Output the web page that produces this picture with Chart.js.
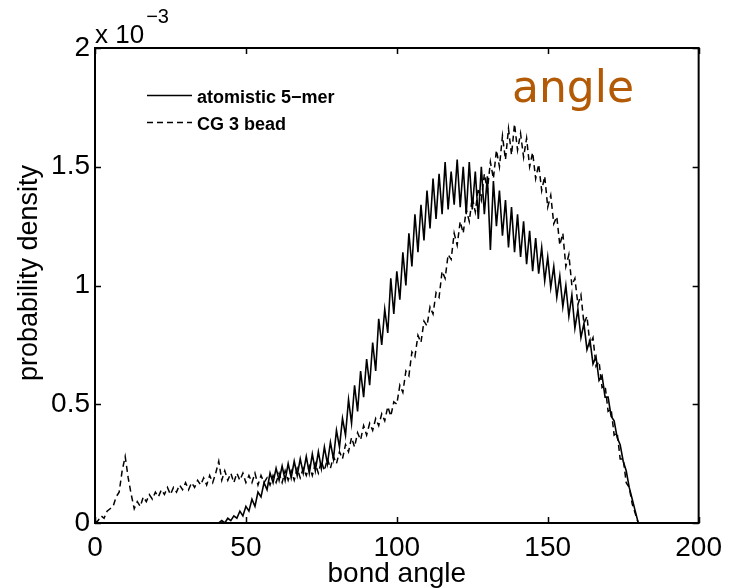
<!DOCTYPE html>
<html>
<head>
<meta charset="utf-8">
<script src="https://cdn.jsdelivr.net/npm/chart.js@4.4.1/dist/chart.umd.min.js"></script>
<style>
  html, body { margin: 0; padding: 0; background: #fff; }
  #wrap { width: 730px; height: 588px; }
</style>
</head>
<body>
<div id="wrap"><canvas id="c" width="730" height="588"></canvas></div>
<script>
// Bond angle (degrees) sample points
const angles = [
  0,1,2,3,4,5,6,7,8,9,10,11,12,13,14,15,16,17,18,19,
  20,21,22,23,24,25,26,27,28,29,30,31,32,33,34,35,36,37,38,39,
  40,41,42,43,44,45,46,47,48,49,50,51,52,53,54,55,56,57,58,59,
  60,61,62,63,64,65,66,67,68,69,70,71,72,73,74,75,76,77,78,79,
  80,81,82,83,84,85,86,87,88,89,90,91,92,93,94,95,96,97,98,99,
  100,101,102,103,104,105,106,107,108,109,110,111,112,113,114,115,116,117,118,119,
  120,121,122,123,124,125,126,127,128,129,130,131,132,133,134,135,136,137,138,139,
  140,141,142,143,144,145,146,147,148,149,150,151,152,153,154,155,156,157,158,159,
  160,161,162,163,164,165,166,167,168,169,170,171,172,173,174,175,176,177,178,179,
  180
];

// Probability density (x 1e-3), atomistic 5-mer, angles 40..180
const atomistic5mer = [
  0.00,0.00,0.01,0.00,0.02,0.01,0.03,0.02,0.05,0.03,
  0.07,0.05,0.10,0.07,0.13,0.11,0.17,0.14,0.21,0.17,
  0.23,0.18,0.24,0.18,0.25,0.19,0.26,0.20,0.27,0.21,
  0.28,0.21,0.29,0.22,0.30,0.23,0.32,0.25,0.34,0.27,
  0.39,0.32,0.44,0.37,0.52,0.42,0.58,0.47,0.64,0.53,
  0.69,0.58,0.76,0.64,0.86,0.75,0.90,0.80,1.03,0.88,
  1.06,0.94,1.14,1.00,1.22,1.08,1.30,1.14,1.34,1.19,
  1.40,1.24,1.45,1.28,1.47,1.30,1.52,1.32,1.48,1.34,
  1.53,1.33,1.50,1.30,1.52,1.32,1.48,1.28,1.50,1.30,
  1.46,1.15,1.44,1.25,1.40,1.21,1.36,1.16,1.33,1.14,
  1.30,1.12,1.27,1.09,1.23,1.06,1.20,1.05,1.16,1.02,
  1.12,0.99,1.08,0.95,1.04,0.91,1.00,0.87,0.96,0.82,
  0.90,0.78,0.84,0.73,0.77,0.67,0.70,0.60,0.62,0.53,
  0.53,0.45,0.43,0.36,0.33,0.26,0.22,0.15,0.10,0.05,
  0.00
];
const atomisticStartAngle = 40;

// Probability density (x 1e-3), CG 3 bead, angles 0..180
const cg3bead = [
  0.00,0.01,0.03,0.02,0.05,0.06,0.07,0.11,0.13,0.22,
  0.28,0.19,0.12,0.06,0.09,0.07,0.11,0.09,0.12,0.10,
  0.13,0.11,0.14,0.12,0.15,0.12,0.15,0.13,0.16,0.14,
  0.17,0.14,0.17,0.15,0.18,0.16,0.19,0.16,0.20,0.17,
  0.21,0.26,0.18,0.22,0.18,0.21,0.17,0.21,0.18,0.21,
  0.17,0.20,0.17,0.21,0.16,0.20,0.17,0.19,0.16,0.20,
  0.17,0.21,0.17,0.22,0.18,0.22,0.18,0.23,0.19,0.23,
  0.20,0.24,0.20,0.25,0.21,0.26,0.22,0.27,0.23,0.28,
  0.25,0.30,0.27,0.33,0.30,0.36,0.32,0.38,0.35,0.41,
  0.37,0.42,0.39,0.44,0.41,0.46,0.43,0.49,0.45,0.51,
  0.50,0.58,0.55,0.64,0.62,0.72,0.70,0.79,0.76,0.85,
  0.83,0.91,0.88,0.97,0.95,1.06,1.03,1.13,1.11,1.22,
  1.17,1.27,1.22,1.32,1.27,1.37,1.31,1.41,1.36,1.47,
  1.40,1.52,1.45,1.57,1.50,1.63,1.53,1.66,1.55,1.68,
  1.57,1.64,1.54,1.62,1.50,1.56,1.45,1.51,1.40,1.46,
  1.33,1.38,1.26,1.29,1.17,1.22,1.08,1.13,1.00,1.03,
  0.92,0.96,0.84,0.87,0.75,0.78,0.66,0.68,0.57,0.58,
  0.47,0.48,0.37,0.38,0.27,0.27,0.17,0.15,0.08,0.04,
  0.00
];

const seriesLabels = ['atomistic 5\u2212mer', 'CG 3 bead'];
const xTicks = [0, 50, 100, 150, 200];
const yTicks = [0, 0.5, 1, 1.5, 2];
const xTitle = 'bond angle';
const yTitle = 'probability density';
const yExponent = '\u22123';
const annotationText = 'angle';

const atomAngles = angles.filter(a => a >= atomisticStartAngle);
const atomData = atomistic5mer.map((v, i) => ({ x: atomAngles[i], y: v }));
const cgData = cg3bead.map((v, i) => ({ x: angles[i], y: v }));

const TICK_FONT = { family: "'Liberation Sans', Arial, sans-serif", size: 28 };

const framePlugin = {
  id: 'frame',
  afterDatasetsDraw(chart) {
    const { ctx, chartArea: a, scales: { x, y } } = chart;
    ctx.save();
    ctx.strokeStyle = '#000';
    ctx.lineWidth = 2;
    ctx.strokeRect(a.left, a.top, a.right - a.left, a.bottom - a.top);
    ctx.lineWidth = 1.5;
    const L = 6;
    ctx.beginPath();
    xTicks.forEach(t => {
      const px = Math.round(x.getPixelForValue(t)) + 0.5;
      ctx.moveTo(px, a.bottom); ctx.lineTo(px, a.bottom - L);
      ctx.moveTo(px, a.top); ctx.lineTo(px, a.top + L);
    });
    yTicks.forEach(t => {
      const py = Math.round(y.getPixelForValue(t)) + 0.5;
      ctx.moveTo(a.left, py); ctx.lineTo(a.left + L, py);
      ctx.moveTo(a.right, py); ctx.lineTo(a.right - L, py);
    });
    ctx.stroke();

    // y-axis title
    ctx.save();
    ctx.fillStyle = '#000';
    ctx.font = "27px 'Liberation Sans', Arial, sans-serif";
    ctx.textAlign = 'center';
    ctx.textBaseline = 'alphabetic';
    ctx.translate(37, 273);
    ctx.rotate(-Math.PI / 2);
    ctx.fillText(yTitle, 0, 0);
    ctx.restore();

    // exponent label
    ctx.fillStyle = '#000';
    ctx.textBaseline = 'alphabetic';
    ctx.textAlign = 'left';
    ctx.font = "26px 'Liberation Sans', Arial, sans-serif";
    ctx.fillText('x 10', a.left, 43);
    const w = ctx.measureText('x 10').width;
    ctx.font = "20px 'Liberation Sans', Arial, sans-serif";
    ctx.fillText(yExponent, a.left + w + 2, 23);

    // legend
    const lx0 = 147, lx1 = 192, tx = 197;
    const rows = [95, 122];
    chart.data.datasets.forEach((ds, i) => {
      ctx.save();
      ctx.strokeStyle = '#000';
      ctx.lineWidth = 1.3;
      ctx.setLineDash(ds.borderDash || []);
      ctx.beginPath();
      ctx.moveTo(lx0, rows[i] + 0.5);
      ctx.lineTo(lx1, rows[i] + 0.5);
      ctx.stroke();
      ctx.restore();
      ctx.font = "bold 18px 'Liberation Sans', Arial, sans-serif";
      ctx.textBaseline = 'alphabetic';
      ctx.fillStyle = '#000';
      ctx.fillText(ds.label, tx, rows[i] + 8);
    });

    // annotation
    ctx.font = "44px 'DejaVu Sans', sans-serif";
    ctx.fillStyle = 'rgb(178,90,5)';
    ctx.fillText(annotationText, 512, 102);
    ctx.restore();
  }
};

new Chart(document.getElementById('c'), {
  type: 'line',
  data: {
    datasets: [
      { label: seriesLabels[0], data: atomData, borderColor: '#000', borderWidth: 1.6,
        pointRadius: 0, fill: false, tension: 0 },
      { label: seriesLabels[1], data: cgData, borderColor: '#000', borderWidth: 1.5,
        borderDash: [6, 4], pointRadius: 0, fill: false, tension: 0 }
    ]
  },
  options: {
    responsive: false,
    animation: false,
    devicePixelRatio: 1,
    layout: { padding: { top: 48, right: 27, left: 0, bottom: 0 } },
    plugins: { legend: { display: false }, tooltip: { enabled: false } },
    scales: {
      x: {
        type: 'linear', min: 0, max: 200,
        afterBuildTicks: s => { s.ticks = xTicks.map(v => ({ value: v })); },
        afterFit: s => { s.height = 65; },
        grid: { display: false, drawTicks: false },
        border: { display: false },
        ticks: { font: TICK_FONT, color: '#000', padding: 8, maxRotation: 0,
                 callback: v => String(v) },
        title: { display: true, text: xTitle, color: '#000',
                 font: { family: TICK_FONT.family, size: 28, lineHeight: 1 },
                 padding: { top: 0, bottom: 0 } }
      },
      y: {
        type: 'linear', min: 0, max: 2,
        afterBuildTicks: s => { s.ticks = yTicks.map(v => ({ value: v })); },
        afterFit: s => { s.width = 95; },
        grid: { display: false, drawTicks: false },
        border: { display: false },
        ticks: { font: TICK_FONT, color: '#000', padding: 5,
                 callback: v => String(v) }
      }
    }
  },
  plugins: [framePlugin]
});
</script>
</body>
</html>
